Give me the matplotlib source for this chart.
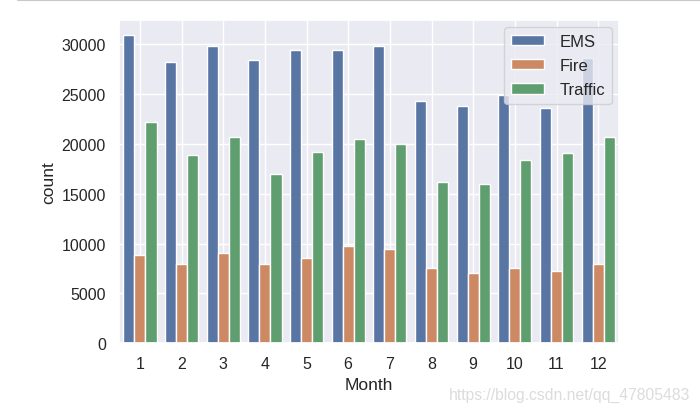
import matplotlib
matplotlib.use("Agg")
import matplotlib.pyplot as plt
import numpy as np
import seaborn as sns

months = [1, 2, 3, 4, 5, 6, 7, 8, 9, 10, 11, 12]
reasons = ["EMS", "Fire", "Traffic"]
ems = [30930, 28270, 29870, 28400, 29430, 29430, 29870, 24320, 23860, 24890, 23590, 28670]
fire = [8850, 7950, 9020, 7950, 8550, 9720, 9450, 7520, 7050, 7520, 7220, 7950]
traffic = [22210, 18940, 20750, 16970, 19200, 20550, 19980, 16200, 15940, 18440, 19080, 20750]

sns.set_theme(style="darkgrid")
plt.rcParams['font.family'] = ['Liberation Sans', 'DejaVu Sans']

fig = plt.figure(figsize=(7.0, 4.14), dpi=100)
ax = fig.add_axes([119/700, 1 - 344.3/414, 500/700, (344.3 - 20.7)/414])

colors = [sns.desaturate(c, 0.75) for c in sns.color_palette("deep", 3)]
series = [ems, fire, traffic]
x = np.arange(len(months))
w = 0.8 / 3
for i, (name, vals) in enumerate(zip(reasons, series)):
    ax.bar(x - 0.4 + w * (i + 0.5), vals, width=w, color=colors[i], label=name,
           edgecolor="white", linewidth=1)

ax.set_xticks(x)
ax.set_xticklabels([str(m) for m in months], fontsize=11.5)
ax.tick_params(axis="y", labelsize=11.5)
ax.set_xlim(-0.5, len(months) - 0.5)
ax.set_ylim(0, max(ems) * 1.05)
ax.set_yticks([0, 5000, 10000, 15000, 20000, 25000, 30000])
ax.set_xlabel("Month", fontsize=12.5)
ax.set_ylabel("count", fontsize=12.5)
ax.legend(loc="upper right", fontsize=12, labelspacing=0.55, handleheight=0.6,
          handletextpad=0.9, borderaxespad=0.45)

fig.text(690/700, 1 - 395/414, "https://blog.csdn.net/qq_47805483", ha="right", va="center",
         fontsize=11.3, color="#dcdcdc")
fig.add_artist(plt.Line2D([18/700, 1.0], [0.997, 0.997], color="#c8c8c8", lw=1.5))

fig.savefig("out.png", dpi=100, facecolor="white")
